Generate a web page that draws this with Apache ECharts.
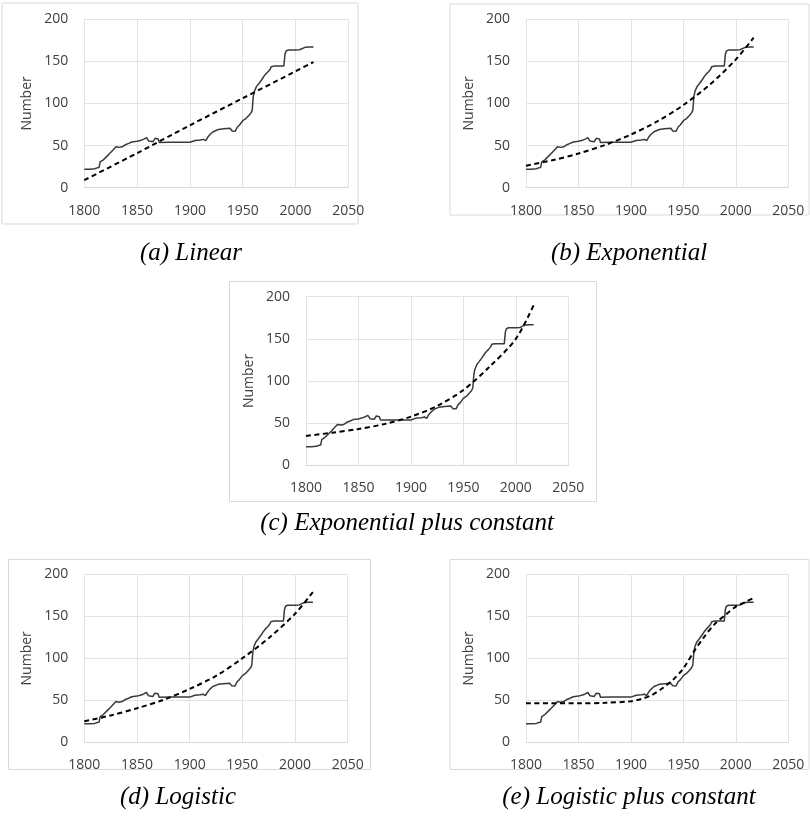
<!DOCTYPE html>
<html>
<head>
<meta charset="utf-8">
<script src="https://cdn.jsdelivr.net/npm/echarts@6/dist/echarts.min.js"></script>
<style>html,body{margin:0;padding:0;background:#fff}#c{width:810px;height:823px}</style>
</head>
<body>
<div id="c"></div>
<script>
// Observed data (years and counts)
var obsYears = [1800,1805,1810,1812,1814,1815,1818,1822,1824,1827,1830,1833,1836,1839,1842,1845,1850,1853,1856,1859,1861,1865,1867,1870,1871,1880,1890,1900,1901,1905,1910,1913,1915,1917,1919,1922,1927,1932,1938,1940,1943,1945,1947,1950,1953,1956,1958,1959,1960,1961,1963,1965,1968,1970,1972,1974,1976,1977,1980,1985,1989,1990,1991,1993,2000,2004,2006,2009,2013,2017];
var obsValues = [22,22,22.5,23.5,24,30.5,33,38,40.5,44.5,48.5,47.8,48.5,51,52.5,54.2,55,56,57.3,59.3,55.3,54.5,58.5,57.7,53.6,53.8,53.8,53.8,55.7,56,56.5,57.3,55.7,60,63,66.4,69,69.8,70.4,67.2,67,72,74.3,79.4,82,86,89,92,108,114,119.8,123,128,132,135,137.5,140.5,143.5,144.3,144.3,144.3,158,162,163.2,163.2,163.5,164.8,166.4,166.8,166.8];

// Fitted curves
var linYears = [1800,1850,1900,1950,2000,2017];
var linValues = [9,41,74,106,138,149];

var expYears = [1800,1825,1850,1875,1900,1925,1950,1975,2000,2017];
var expValues = [26,32.5,40.5,50.5,63,78.5,98,122,152,178];

var expcYears = [1800,1825,1850,1875,1900,1925,1950,1975,2000,2017];
var expcValues = [34.8,38.7,43,49,57.7,70.4,89.3,117,150,190];

var logYears = [1800,1825,1850,1875,1900,1925,1950,1975,2000,2017];
var logValues = [25,32,40.5,50.5,63.5,79,100,124,153,179];

var logcYears = [1800,1850,1875,1900,1910,1920,1930,1940,1950,1960,1970,1980,1990,2000,2010,2017];
var logcValues = [46.4,46.4,47,48.8,51.6,56.3,64.3,74.2,88,108,125.8,141,151.6,161.5,167.5,172];

var xTicks = [1800,1850,1900,1950,2000,2050];
var yTicks = [0,50,100,150,200];
var captions = ['(a) Linear','(b) Exponential','(c) Exponential plus constant','(d) Logistic','(e) Logistic plus constant'];
var yName = 'Number';

function zip(xs, ys){ return xs.map(function(x,i){return [x, ys[i]];}); }

var panels = [
  {grid:{left:84.3,top:19,width:264,height:168.7}, box:[2,3,356,221], cap:[191,253], fit:[linYears,linValues]},
  {grid:{left:526,top:19,width:262.3,height:168.7}, box:[450,4,359,211], cap:[629,253], fit:[expYears,expValues]},
  {grid:{left:306,top:296.7,width:262.3,height:168.6}, box:[229.5,281.5,367,220], cap:[407,523], fit:[expcYears,expcValues]},
  {grid:{left:84.3,top:574.3,width:263.4,height:168}, box:[8.5,559.5,362,210], cap:[178,797], fit:[logYears,logValues]},
  {grid:{left:526,top:574.3,width:262.3,height:168}, box:[450,559.5,359,210], cap:[629,797], fit:[logcYears,logcValues]}
];

var grids=[], xAxes=[], yAxes=[], series=[], graphics=[];
var labelFont = 'Open Sans';
panels.forEach(function(p,i){
  grids.push(p.grid);
  xAxes.push({
    type:'value', gridIndex:i, min:xTicks[0], max:xTicks[xTicks.length-1], interval:xTicks[1]-xTicks[0],
    axisLine:{show:true,lineStyle:{color:'#d9d9d9',width:1}},
    axisTick:{show:false},
    splitLine:{show:true,lineStyle:{color:'#e3e3e3',width:1}},
    axisLabel:{color:'#404040',fontSize:14,fontFamily:labelFont,margin:16,formatter:function(v){return String(v);}}
  });
  yAxes.push({
    type:'value', gridIndex:i, min:yTicks[0], max:yTicks[yTicks.length-1], interval:yTicks[1]-yTicks[0],
    name:yName, nameLocation:'middle', nameGap:50, nameRotate:90,
    nameTextStyle:{color:'#404040',fontSize:14,fontFamily:labelFont},
    axisLine:{show:false}, axisTick:{show:false},
    splitLine:{show:true,lineStyle:{color:'#e3e3e3',width:1}},
    axisLabel:{color:'#404040',fontSize:14,fontFamily:labelFont,margin:16,formatter:function(v){return String(v);}}
  });
  series.push({
    type:'line', xAxisIndex:i, yAxisIndex:i, data:zip(obsYears,obsValues),
    showSymbol:false, symbol:'none', lineStyle:{color:'#3a3a3a',width:1.5}, z:3
  });
  series.push({
    type:'line', xAxisIndex:i, yAxisIndex:i, data:zip(p.fit[0],p.fit[1]), smooth:0.3,
    showSymbol:false, symbol:'none', lineStyle:{color:'#000',width:2,type:[5,3.5]}, z:4
  });
  graphics.push({type:'rect', shape:{x:p.box[0],y:p.box[1],width:p.box[2],height:p.box[3]}, style:{fill:null,stroke:'#d9d9d9',lineWidth:1}, silent:true});
  graphics.push({type:'text', x:p.cap[0], y:p.cap[1], style:{text:captions[i], fill:'#000', font:'italic 25px "Liberation Serif"', textAlign:'center', textVerticalAlign:'middle'}});
});

var chart = echarts.init(document.getElementById('c'), null, {renderer:'canvas'});
chart.setOption({
  animation:false,
  backgroundColor:'#fff',
  grid:grids, xAxis:xAxes, yAxis:yAxes, series:series, graphic:graphics
});
</script>
</body>
</html>
